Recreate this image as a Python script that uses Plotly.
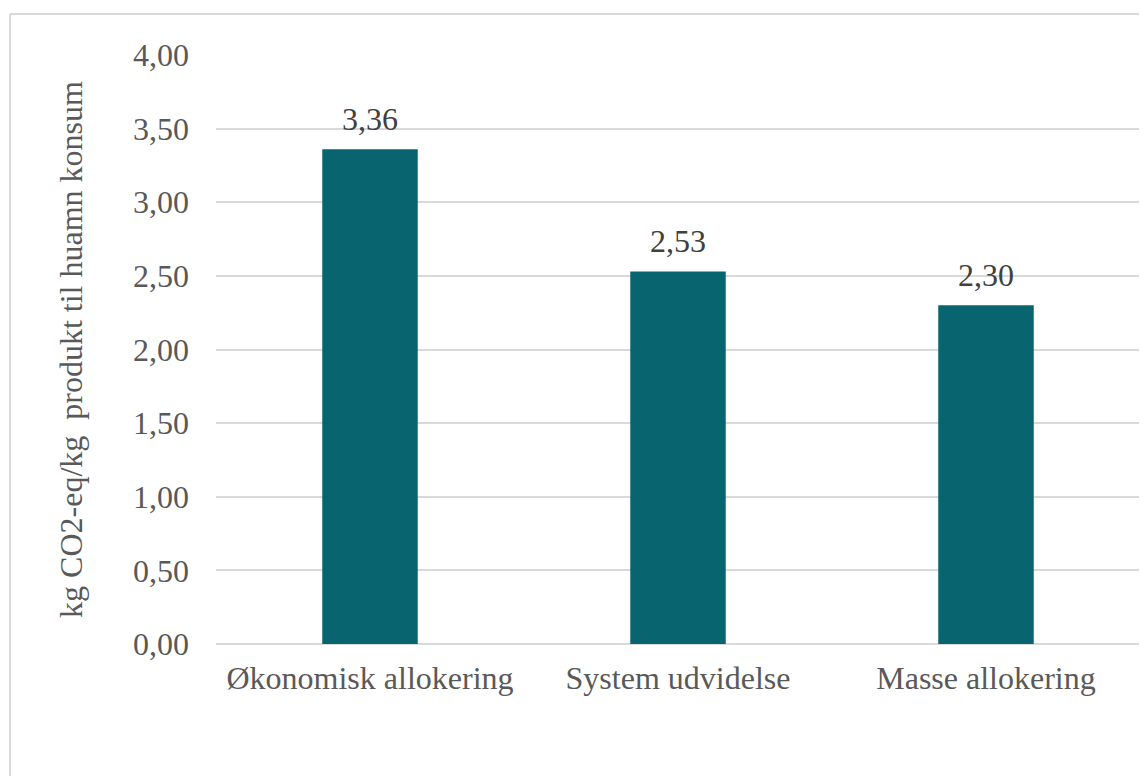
import plotly.graph_objects as go

categories = ["Økonomisk allokering", "System udvidelse", "Masse allokering"]
values = [3.36, 2.53, 2.30]
labels = ["3,36", "2,53", "2,30"]
tick_vals = [0, 0.5, 1.0, 1.5, 2.0, 2.5, 3.0, 3.5, 4.0]
tick_text = ["0,00", "0,50", "1,00", "1,50", "2,00", "2,50", "3,00", "3,50", "4,00"]
y_title = "kg CO2-eq/kg  produkt til huamn konsum"

# page has an 8px body margin, so the figure is offset by 8px
OFF = 8
W, H = 1147 - OFF, 776 - OFF
L, R, T, B = 216 - OFF, 7, 55 - OFF, 132
pw, ph = W - L - R, H - T - B

font = "Liberation Serif, Times New Roman, serif"
FS = 32

fig = go.Figure(go.Bar(
    x=categories, y=values,
    marker=dict(color="#08646E", line=dict(width=0)),
    width=0.31,
))

for c, v, t in zip(categories, values, labels):
    fig.add_annotation(x=c, y=v, text=t, showarrow=False, yanchor="bottom",
                       yshift=10, font=dict(family=font, size=FS, color="#404040"))

def px_x(x):
    return (x - OFF - L) / pw

def px_y(y):
    return (H - B - (y - OFF)) / ph

fig.update_layout(
    width=W, height=H,
    margin=dict(l=L, r=R, t=T, b=B),
    paper_bgcolor="white", plot_bgcolor="white",
    showlegend=False,
    font=dict(family=font, color="#595959", size=FS),
    xaxis=dict(showgrid=False, showline=False, ticks="",
               tickfont=dict(family=font, size=FS, color="#595959"),
               ticklabelstandoff=12),
    yaxis=dict(range=[0, 4.0], tickvals=tick_vals, ticktext=tick_text,
               showgrid=True, gridcolor="#D9D9D9", gridwidth=1.5,
               zeroline=True, zerolinecolor="#D9D9D9", zerolinewidth=1.5,
               showline=False, ticks="",
               tickfont=dict(family=font, size=FS, color="#595959"),
               ticklabelstandoff=26,
               title=dict(text=y_title, font=dict(family=font, size=FS, color="#595959"), standoff=40)),
    shapes=[
        dict(type="line", xref="paper", yref="paper", x0=px_x(10), x1=px_x(10),
             y0=px_y(14), y1=px_y(800), line=dict(color="#D9D9D9", width=2)),
        dict(type="line", xref="paper", yref="paper", x0=px_x(10), x1=px_x(1200),
             y0=px_y(14), y1=px_y(14), line=dict(color="#D9D9D9", width=2)),
    ],
)

fig.write_html("out.html")
